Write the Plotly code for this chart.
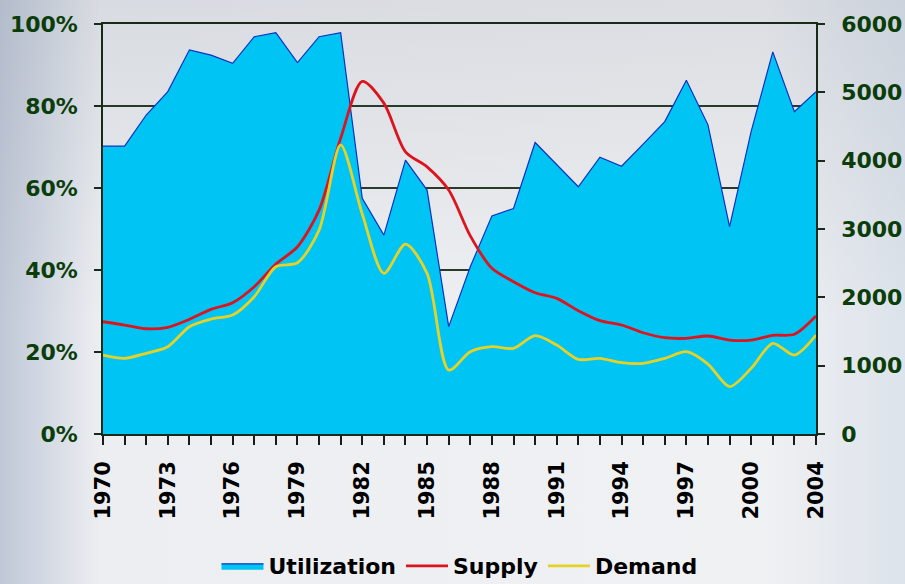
import base64
import plotly.graph_objects as go

# ---------------- data ----------------
years = list(range(1970, 2004))  # 34 plotted periods

utilization_pct = [70.2, 70.2, 77.8, 83.5, 93.7, 92.4, 90.4, 96.9, 97.9, 90.6,
                   96.9, 97.9, 57.5, 48.5, 66.8, 59.5, 26.2, 40.8, 53.2, 55.0,
                   71.1, 65.6, 60.3, 67.5, 65.3, 70.7, 76.2, 86.3, 75.4, 50.6,
                   73.8, 93.2, 78.6, 83.5]

supply = [1643, 1595, 1540, 1561, 1678, 1824, 1921, 2155, 2487, 2740,
          3277, 4330, 5160, 4842, 4130, 3910, 3570, 2900, 2424, 2229,
          2068, 1985, 1804, 1658, 1595, 1482, 1409, 1400, 1434, 1375,
          1375, 1444, 1459, 1726]

demand = [1156, 1107, 1181, 1278, 1570, 1682, 1741, 2009, 2448, 2506,
          2984, 4230, 3220, 2351, 2780, 2351, 936, 1204, 1278, 1253,
          1439, 1302, 1092, 1107, 1043, 1034, 1107, 1204, 1024, 692,
          961, 1327, 1156, 1448]

tick_positions = [1970, 1973, 1976, 1979, 1982, 1985, 1988, 1991, 1994, 1997, 2000, 2003]
tick_labels = ["1970", "1973", "1976", "1979", "1982", "1985", "1988", "1991",
               "1994", "1997", "2000", "2004"]

left_ticks = [0, 20, 40, 60, 80, 100]
left_tick_labels = ["0%", "20%", "40%", "60%", "80%", "100%"]
right_ticks = [0, 1000, 2000, 3000, 4000, 5000, 6000]

# ---------------- styling ----------------
W, H = 905, 584
L, R, T, B = 103, 816, 24, 434
label_green = "#0b3d0b"
grid_col = "#2a3a2a"
font_fam = "DejaVu Sans, Arial, sans-serif"

fig = go.Figure()

fig.add_trace(go.Scatter(
    x=years, y=utilization_pct, name="Utilization", mode="lines",
    fill="tozeroy", fillcolor="#00C4F4",
    line=dict(color="#1030c0", width=1.2), yaxis="y"))

fig.add_trace(go.Scatter(
    x=years, y=supply, name="Supply", mode="lines",
    line=dict(color="#dc141e", width=2.8, shape="spline", smoothing=0.8),
    yaxis="y2"))

fig.add_trace(go.Scatter(
    x=years, y=demand, name="Demand", mode="lines",
    line=dict(color="#e6d226", width=2.8, shape="spline", smoothing=0.8),
    yaxis="y2"))


def px2x(px):
    return (px - L) / (R - L)


def py2y(py):
    return (B - py) / (B - T)


# background gradient as an SVG image behind everything
svg = (
    "<svg xmlns='http://www.w3.org/2000/svg' width='905' height='584' "
    "viewBox='0 0 905 584' preserveAspectRatio='none'>"
    "<defs>"
    "<linearGradient id='h' x1='0' x2='1' y1='0' y2='0'>"
    "<stop offset='0' stop-color='#bfc8d7'/>"
    "<stop offset='0.11' stop-color='#eceef1'/>"
    "<stop offset='0.84' stop-color='#f0f1f3'/>"
    "<stop offset='1' stop-color='#dde3eb'/>"
    "</linearGradient>"
    "<linearGradient id='v' x1='0' x2='0' y1='0' y2='1'>"
    "<stop offset='0' stop-color='#7c8596' stop-opacity='0.18'/>"
    "<stop offset='0.55' stop-color='#7c8596' stop-opacity='0'/>"
    "</linearGradient>"
    "</defs>"
    "<rect width='905' height='584' fill='url(#h)'/>"
    "<rect width='905' height='584' fill='url(#v)'/>"
    "</svg>"
)
svg_uri = "data:image/svg+xml;base64," + base64.b64encode(svg.encode()).decode()

fig.update_layout(
    width=W, height=H,
    margin=dict(l=L, r=W - R, t=T, b=H - B, autoexpand=False),
    paper_bgcolor="rgb(236,238,242)",
    plot_bgcolor="rgba(0,0,0,0)",
    images=[dict(source=svg_uri, xref="paper", yref="paper",
                 x=px2x(0), y=py2y(0), sizex=W / (R - L), sizey=H / (B - T),
                 xanchor="left", yanchor="top", sizing="stretch", layer="below")],
    showlegend=True,
    legend=dict(orientation="h", x=0.5, xanchor="center", y=py2y(566),
                yanchor="middle", bgcolor="rgba(0,0,0,0)",
                font=dict(family=font_fam, size=22, color="black", weight="bold"),
                itemwidth=42, traceorder="normal"),
    xaxis=dict(range=[1970, 2003], tickmode="array",
               tickvals=tick_positions, ticktext=tick_labels,
               tickangle=-90, ticks="outside", ticklen=9, tickwidth=1.5,
               tickcolor="#1a1a1a",
               minor=dict(ticks="outside", ticklen=9, tickwidth=1.5,
                          tickcolor="#1a1a1a", dtick=1, showgrid=False),
               showline=True, linecolor="#1a2a1a", linewidth=1.5, mirror=True,
               showgrid=False, zeroline=False,
               tickfont=dict(family=font_fam, size=21, color="black", weight="bold"),
               ticklabelstandoff=8),
    yaxis=dict(range=[0, 100], tickmode="array", tickvals=left_ticks,
               ticktext=left_tick_labels, ticks="outside", ticklen=7, tickwidth=1.5,
               tickcolor="#1a2a1a",
               showline=True, linecolor="#1a2a1a", linewidth=1.5,
               showgrid=True, gridcolor=grid_col, gridwidth=1.5,
               zeroline=False,
               tickfont=dict(family=font_fam, size=22, color=label_green, weight="bold"),
               ticklabelstandoff=12),
    yaxis2=dict(range=[0, 6000], overlaying="y", side="right",
                tickmode="array", tickvals=right_ticks,
                ticks="outside", ticklen=7, tickwidth=1.5, tickcolor="#1a2a1a",
                showline=True, linecolor="#1a2a1a", linewidth=1.5,
                showgrid=False, zeroline=False,
                tickfont=dict(family=font_fam, size=22, color=label_green, weight="bold"),
                ticklabelstandoff=12),
)

fig.write_html("out.html", config={"displayModeBar": False},
               post_script="document.body.style.margin='0';document.body.style.overflow='hidden';")
